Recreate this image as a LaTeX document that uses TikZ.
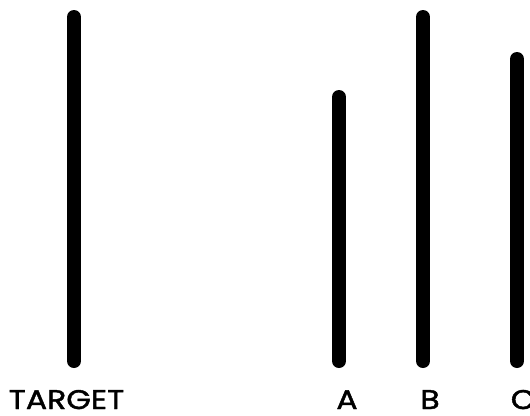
\documentclass[tikz,border=0pt]{standalone}
\usepackage{fontspec}
\newfontfamily\etifont{Poppins}[FakeStretch=1.17, FakeBold=1.6]
\begin{document}
\begin{tikzpicture}[
	x=1pt, y=-1pt,
	asta/.style={line width=14pt, line cap=round, black},
	etichetta/.style={font=\etifont\fontsize{27}{27}\selectfont, inner sep=0pt, anchor=base}]
	
	\useasboundingbox (0,0) rectangle (530,415);
	
	\def\yB{361}   %% base comune delle aste
	\def\yL{409}   %% linea di base delle etichette
	
	%% --- estremi delle aste ---
	\coordinate (tgtTop) at (74,17);   \coordinate (tgtBot) at (74,\yB);
	\coordinate (aTop)   at (339,97);  \coordinate (aBot)   at (339,\yB);
	\coordinate (bTop)   at (423,17);  \coordinate (bBot)   at (423,\yB);
	\coordinate (cTop)   at (517,59);  \coordinate (cBot)   at (517,\yB);
	
	%% --- aste ---
	\draw[asta] (tgtTop) -- (tgtBot);
	\draw[asta] (aTop) -- (aBot);
	\draw[asta] (bTop) -- (bBot);
	\draw[asta] (cTop) -- (cBot);
	
	%% --- etichette ---
	\node[etichetta] (tgtLab) at (66.5,\yL) {TARGET};
	\node[etichetta] (aLab)   at (347,\yL) {A};
	\node[etichetta] (bLab)   at (430,\yL) {B};
	\node[etichetta] (cLab)   at (523,\yL) {C};
	
\end{tikzpicture}
\end{document}
